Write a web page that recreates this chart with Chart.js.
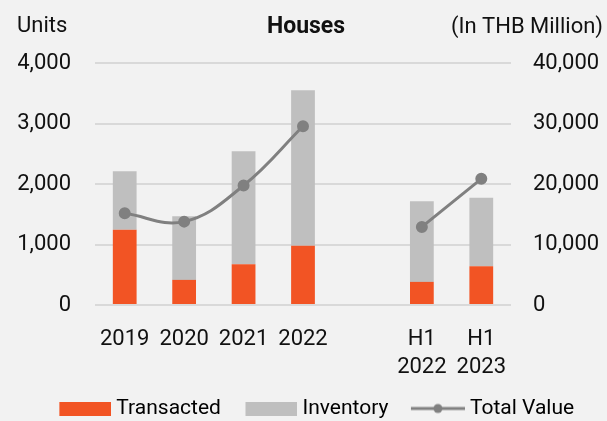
<!DOCTYPE html>
<html>
<head>
<meta charset="utf-8">
<script src="https://cdn.jsdelivr.net/npm/chart.js@4.4.1/dist/chart.umd.min.js"></script>
<style>
  html, body { margin: 0; padding: 0; background: #f2f2f2; }
  #wrap { width: 607px; height: 421px; }
</style>
</head>
<body>
<div id="wrap"><canvas id="housesChart" width="607" height="421"></canvas></div>
<script>
// units sold / unsold stock per period, value in THB million
const periods = ['2019', '2020', '2021', '2022', '', ['H1', '2022'], ['H1', '2023']];
const transacted = [1245, 415, 675, 980, null, 382, 642];
const inventory = [965, 1050, 1865, 2570, null, 1333, 1129];
const totalValue = [15150, 13780, 19750, 29540, null, 12900, 20860];

const unitTicks = [0, 1000, 2000, 3000, 4000];
const valueTicks = [0, 10000, 20000, 30000, 40000];

const ORANGE = '#f25424';
const GREY = '#bfbfbf';
const LINE = '#808080';
const TEXT = '#111';
const FONT = 'Roboto, "Liberation Sans", sans-serif';

// legend swatches: the mark sits at the right end, the transparent part
// on the left widens the gap to the previous legend entry
function swatch(w, h, draw) {
  const c = document.createElement('canvas');
  c.width = w;
  c.height = h;
  draw(c.getContext('2d'), w, h);
  return c;
}

const boxTransacted = swatch(72, 14, (g, w, h) => { g.fillStyle = ORANGE; g.fillRect(w - 52, 0, 52, h); });
const boxInventory = swatch(72, 14, (g, w, h) => { g.fillStyle = GREY; g.fillRect(w - 52, 0, 52, h); });
const boxLine = swatch(72, 14, (g, w, h) => {
  g.strokeStyle = LINE;
  g.lineWidth = 3;
  g.beginPath();
  g.moveTo(w - 54, h / 2);
  g.lineTo(w, h / 2);
  g.stroke();
  g.fillStyle = LINE;
  g.beginPath();
  g.arc(w - 27, h / 2, 4.5, 0, Math.PI * 2);
  g.fill();
});

// header texts: left unit, centred title, right unit
const headerText = {
  id: 'headerText',
  afterDraw(chart) {
    const g = chart.ctx;
    g.save();
    g.fillStyle = TEXT;
    g.textBaseline = 'alphabetic';
    g.font = '22px ' + FONT;
    g.textAlign = 'left';
    g.fillText('Units', 17, 32);
    g.textAlign = 'right';
    g.fillText('(In THB Million)', 603, 33);
    g.font = 'bold 23px ' + FONT;
    g.textAlign = 'center';
    g.fillText('Houses', 306, 33);
    g.restore();
  }
};

const tickFont = { family: FONT, size: 22 };

new Chart(document.getElementById('housesChart'), {
  data: {
    labels: periods,
    datasets: [
      {
        type: 'bar',
        label: 'Transacted',
        data: transacted,
        backgroundColor: ORANGE,
        yAxisID: 'y',
        stack: 'units',
        order: 1,
        barPercentage: 0.4,
        categoryPercentage: 1
      },
      {
        type: 'bar',
        label: 'Inventory',
        data: inventory,
        backgroundColor: GREY,
        yAxisID: 'y',
        stack: 'units',
        order: 1,
        barPercentage: 0.4,
        categoryPercentage: 1
      },
      {
        type: 'line',
        label: 'Total Value',
        data: totalValue,
        yAxisID: 'y1',
        borderColor: LINE,
        backgroundColor: LINE,
        borderWidth: 3,
        tension: 0.4,
        spanGaps: false,
        pointRadius: 4.5,
        pointHoverRadius: 4.5,
        order: 0
      }
    ]
  },
  options: {
    responsive: false,
    animation: false,
    layout: { padding: { top: 63, left: 18, right: 6, bottom: -8 } },
    plugins: {
      title: { display: false },
      tooltip: { enabled: false },
      legend: {
        position: 'bottom',
        labels: {
          color: TEXT,
          font: { family: FONT, size: 21 },
          usePointStyle: true,
          pointStyleWidth: 61,
          boxHeight: 14,
          padding: 10,
          generateLabels: () => [
            { text: 'Transacted', pointStyle: boxTransacted, fillStyle: ORANGE, strokeStyle: ORANGE, lineWidth: 0, datasetIndex: 0 },
            { text: 'Inventory', pointStyle: boxInventory, fillStyle: GREY, strokeStyle: GREY, lineWidth: 0, datasetIndex: 1 },
            { text: 'Total Value', pointStyle: boxLine, fillStyle: LINE, strokeStyle: LINE, lineWidth: 0, datasetIndex: 2 }
          ]
        }
      }
    },
    scales: {
      x: {
        stacked: true,
        offset: true,
        grid: { display: false },
        border: { display: false },
        afterFit: (axis) => { axis.height -= 6; },
        ticks: {
          color: TEXT,
          font: { family: FONT, size: 22, lineHeight: 1.25 },
          padding: 13,
          maxRotation: 0,
          autoSkip: false
        }
      },
      y: {
        position: 'left',
        stacked: true,
        min: 0,
        max: 4000,
        afterBuildTicks: (axis) => { axis.ticks = unitTicks.map(v => ({ value: v })); },
        afterFit: (axis) => { axis.width = 77; },
        grid: { color: '#d9d9d9', lineWidth: 2, drawTicks: false },
        border: { display: false },
        ticks: {
          color: TEXT,
          font: tickFont,
          padding: 24,
          callback: (v) => v.toLocaleString('en-US')
        }
      },
      y1: {
        position: 'right',
        min: 0,
        max: 40000,
        afterBuildTicks: (axis) => { axis.ticks = valueTicks.map(v => ({ value: v })); },
        afterFit: (axis) => { axis.width = 90; },
        grid: { display: false, drawTicks: false },
        border: { display: false },
        ticks: {
          color: TEXT,
          font: tickFont,
          padding: 22,
          callback: (v) => v.toLocaleString('en-US')
        }
      }
    }
  },
  plugins: [headerText]
});
</script>
</body>
</html>
